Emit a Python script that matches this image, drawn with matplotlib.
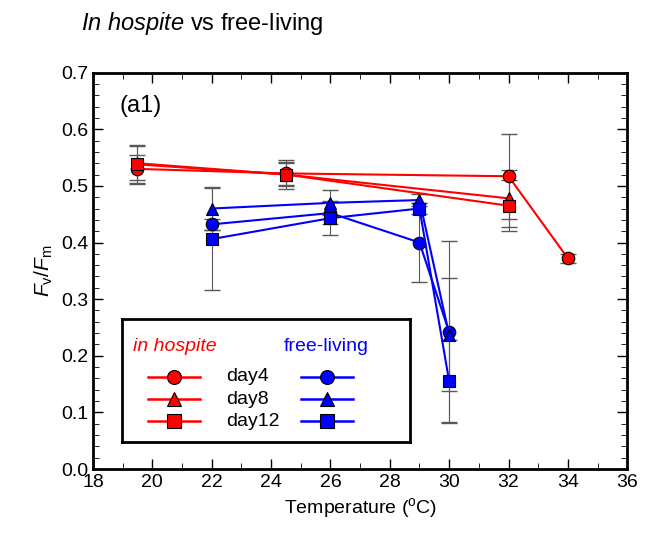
import matplotlib
matplotlib.use("Agg")
import matplotlib.pyplot as plt
from matplotlib.ticker import MultipleLocator

plt.rcParams["font.family"] = ["Liberation Sans", "DejaVu Sans"]
plt.rcParams["mathtext.fontset"] = "custom"
plt.rcParams["mathtext.rm"] = "Liberation Sans"
plt.rcParams["mathtext.it"] = "Liberation Sans:italic"

# in hospite
hos_x = {"day4": [19.5, 24.5, 32, 34], "day8": [19.5, 24.5, 32], "day12": [19.5, 24.5, 32]}
hos_y = {"day4": [0.530, 0.522, 0.517, 0.372], "day8": [0.540, 0.520, 0.478], "day12": [0.538, 0.520, 0.465]}
hos_e = {"day4": [0.025, 0.02, 0.075, 0.008], "day8": [0.03, 0.02, 0.05], "day12": [0.035, 0.025, 0.045]}
# free-living
free_x = [22, 26, 29, 30]
free_y = {"day4": [0.432, 0.452, 0.400, 0.242], "day8": [0.460, 0.470, 0.475, 0.237], "day12": [0.406, 0.443, 0.460, 0.155]}
free_e = {"day4": [0.01, 0.02, 0.07, 0.16], "day8": [0.038, 0.022, 0.01, 0.10], "day12": [0.09, 0.03, 0.01, 0.072]}
markers = {"day4": "o", "day8": "^", "day12": "s"}

fig = plt.figure(figsize=(6.5, 5.46), dpi=100)
ax = fig.add_axes([0.143, 0.141, 0.822, 0.726])

for d in markers:
    ax.errorbar(hos_x[d], hos_y[d], yerr=hos_e[d], fmt="none", ecolor="0.35", elinewidth=0.8, capsize=6, zorder=1)
    ax.errorbar(free_x, free_y[d], yerr=free_e[d], fmt="none", ecolor="0.35", elinewidth=0.8, capsize=6, zorder=1)
for d, m in markers.items():
    ax.plot(hos_x[d], hos_y[d], color="red", lw=1.5, marker=m, ms=9, mfc="red", mec="black", mew=0.8, zorder=3)
    ax.plot(free_x, free_y[d], color="blue", lw=1.5, marker=m, ms=9, mfc="blue", mec="black", mew=0.8, zorder=3)

ax.set_xlim(18, 36)
ax.set_ylim(0, 0.7)
ax.xaxis.set_major_locator(MultipleLocator(2))
ax.xaxis.set_minor_locator(MultipleLocator(1))
ax.yaxis.set_major_locator(MultipleLocator(0.1))
ax.yaxis.set_minor_locator(MultipleLocator(0.02))
ax.yaxis.set_major_formatter(plt.FuncFormatter(lambda v, _: f"{v:.1f}"))
ax.tick_params(which="both", direction="in", top=True, right=True, labelsize=14)
ax.tick_params(which="major", length=7, width=1)
ax.tick_params(which="minor", length=4)
for s in ax.spines.values():
    s.set_linewidth(2)
ax.set_xlabel("Temperature ($^{\\rm o}$C)", fontsize=14)
ax.set_ylabel("$F_{\\rm v}/F_{\\rm m}$", fontsize=15)
ax.text(0.05, 0.9, "(a1)", transform=ax.transAxes, fontsize=17)
fig.text(0.125, 0.945, "$\\it{In\\ hospite}$ vs free-living", fontsize=17)

# custom legend box
lb = ax.inset_axes([0.054, 0.068, 0.54, 0.31])
lb.set_xlim(0, 1); lb.set_ylim(0, 1)
lb.set_xticks([]); lb.set_yticks([])
for s in lb.spines.values():
    s.set_linewidth(2)
lb.text(0.04, 0.78, "in hospite", color="red", style="italic", fontsize=14, va="center")
lb.text(0.56, 0.78, "free-living", color="blue", fontsize=14, va="center")
for i, (d, m) in enumerate(markers.items()):
    yy = 0.53 - i * 0.18
    lb.plot([0.09, 0.27], [yy, yy], color="red", lw=1.8)
    lb.plot([0.18], [yy], marker=m, ms=10, mfc="red", mec="black", mew=0.8)
    lb.plot([0.62, 0.80], [yy, yy], color="blue", lw=1.8)
    lb.plot([0.71], [yy], marker=m, ms=10, mfc="blue", mec="black", mew=0.8)
    lb.text(0.36, yy, d, fontsize=14, va="center")

fig.savefig("out.png", dpi=100)
